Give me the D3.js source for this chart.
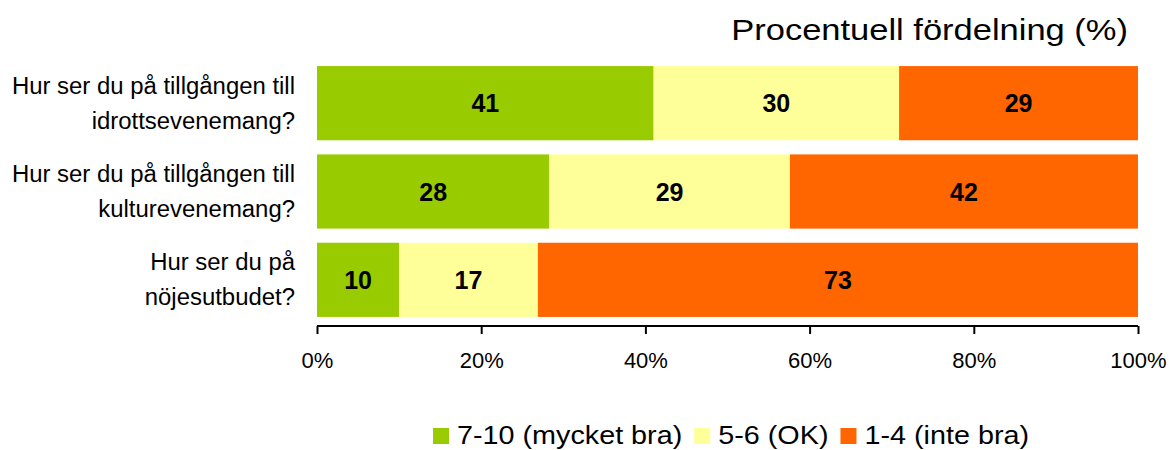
<!DOCTYPE html>
<html><head><meta charset="utf-8">
<script src="https://cdn.jsdelivr.net/npm/d3@7"></script>
<style>body{margin:0;background:#fff}svg{display:block;font-family:"Liberation Sans",Arial,sans-serif}</style>
</head><body><svg id="c" width="1171" height="450"></svg>
<script>
const categories = [["Hur ser du på tillgången till","idrottsevenemang?"],["Hur ser du på tillgången till","kulturevenemang?"],["Hur ser du på","nöjesutbudet?"]];
const seriesNames = ["7-10 (mycket bra)","5-6 (OK)","1-4 (inte bra)"];
const good = [41.0, 28.3, 10.0];
const ok = [29.9, 29.3, 16.9];
const bad = [29.1, 42.4, 73.1];
const colors = ["#99CC00","#FFFF99","#FF6600"];
const ticks = [0,20,40,60,80,100];

const svg = d3.select("#c");
const x = d3.scaleLinear().domain([0,100]).range([317,1138]);
const y = d3.scaleBand().domain(d3.range(categories.length)).range([59,324]).paddingInner(0.16).paddingOuter(0.08);

const rows = categories.map((c,i)=>({i, vals:[good[i],ok[i],bad[i]]}));
const stack = d3.stack().keys([0,1,2]).value((d,k)=>d.vals[k]);
const layers = stack(rows);

layers.forEach((layer,k)=>{
  const g = svg.append("g");
  g.selectAll("rect").data(layer).join("rect")
    .attr("x",d=>x(d[0])).attr("width",d=>x(d[1])-x(d[0]))
    .attr("y",(d,i)=>y(i)).attr("height",y.bandwidth())
    .attr("fill",colors[k]);
  g.selectAll("text").data(layer).join("text")
    .attr("x",d=>(x(d[0])+x(d[1]))/2).attr("y",(d,i)=>y(i)+y.bandwidth()/2+9)
    .attr("text-anchor","middle").attr("font-weight","bold").attr("font-size",25)
    .text(d=>Math.round(d[1]-d[0]));
});

// category labels
categories.forEach((lines,i)=>{
  const t = svg.append("text").attr("text-anchor","end").attr("font-size",23).attr("fill","#000")
    .attr("transform",`translate(295,0) scale(1.04,1)`);
  lines.forEach((l,j)=>{
    t.append("tspan").attr("x",0).attr("y",y(i)+y.bandwidth()/2 - 9.5 + j*35).text(l);
  });
});

// axis
const ax = svg.append("g").attr("transform","translate(0,326)")
  .call(d3.axisBottom(x).tickValues(ticks).tickSize(8).tickPadding(18).tickFormat(d=>d+"%"));
ax.select(".domain").attr("stroke","#000").attr("stroke-width",2).attr("d","M317,0H1138");
ax.selectAll(".tick line").attr("stroke","#000").attr("stroke-width",2);
ax.selectAll(".tick text").attr("font-size",22).attr("fill","#000").attr("font-family","Liberation Sans, Arial, sans-serif");

// title
svg.append("text").attr("text-anchor","end").attr("font-size",30)
  .attr("transform","translate(1128,40) scale(1.15,1)").text("Procentuell fördelning (%)");

// legend
const leg = svg.append("g");
const sx = 1.15;
let lx = 433;
seriesNames.forEach((n,k)=>{
  leg.append("rect").attr("x",lx).attr("y",428).attr("width",16).attr("height",16).attr("fill",colors[k]);
  const t = leg.append("text").attr("font-size",25)
    .attr("transform",`translate(${lx+24},444) scale(${sx},1)`).text(n);
  lx += 24 + t.node().getComputedTextLength()*sx + 12;
});
</script></body></html>
